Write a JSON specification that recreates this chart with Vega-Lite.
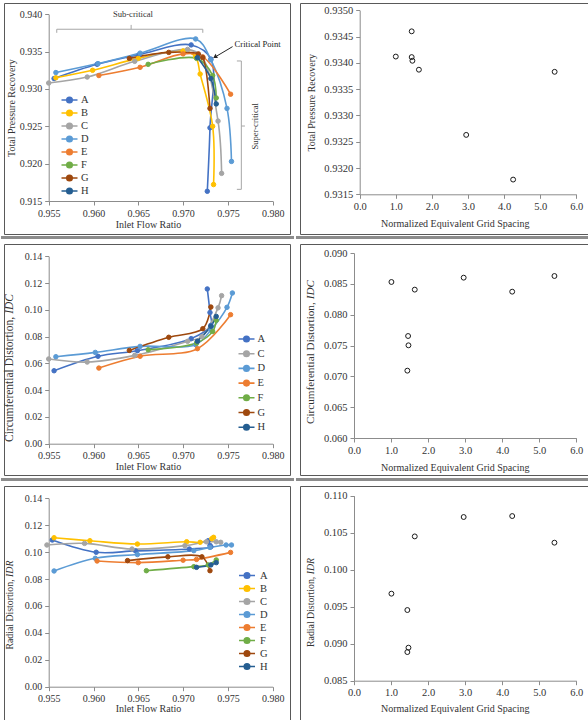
{
  "$schema": "https://vega.github.io/schema/vega-lite/v6.json",
  "padding": {"left": 0, "top": 2, "right": 0, "bottom": 0},
  "background": "white",
  "spacing": 3,
  "config": {
    "view": {"stroke": "#595959", "strokeWidth": 1},
    "font": "Liberation Serif",
    "axis": {
      "grid": false, "domainColor": "#8c8c8c", "tickColor": "#8c8c8c", "tickSize": 4,
      "labelFont": "Liberation Serif", "labelFontSize": 10, "labelColor": "#333333", "labelPadding": 3,
      "labelFlush": false, "labelOverlap": false,
      "titleFont": "Liberation Serif", "titleFontSize": 10, "titleColor": "#333333", "titleFontWeight": "normal"
    },
    "legend": {
      "symbolType": "M-1.6,0H1.6M0.55,0A0.55,0.55,0,1,1,-0.55,0A0.55,0.55,0,1,1,0.55,0Z",
      "symbolSize": 100, "symbolStrokeWidth": 1.6,
      "labelFont": "Liberation Serif", "labelFontSize": 10.5, "labelColor": "#333333"
    }
  },
  "resolve": {
    "scale": {"fill": "independent", "stroke": "independent"},
    "legend": {"fill": "independent", "stroke": "independent"}
  },
  "datasets": {
    "tpr": [
      {"case": "A", "i": 1, "x": 0.9556, "y": 0.9314}, {"case": "A", "i": 2, "x": 0.9604, "y": 0.9333}, {"case": "A", "i": 3, "x": 0.9651, "y": 0.9346}, {"case": "A", "i": 4, "x": 0.9709, "y": 0.9359}, {"case": "A", "i": 5, "x": 0.9731, "y": 0.9340}, {"case": "A", "i": 6, "x": 0.9730, "y": 0.9248}, {"case": "A", "i": 7, "x": 0.9727, "y": 0.9163},
      {"case": "B", "i": 1, "x": 0.9558, "y": 0.9315}, {"case": "B", "i": 2, "x": 0.9599, "y": 0.9325}, {"case": "B", "i": 3, "x": 0.9650, "y": 0.9341}, {"case": "B", "i": 4, "x": 0.9700, "y": 0.9351}, {"case": "B", "i": 5, "x": 0.9714, "y": 0.9343}, {"case": "B", "i": 6, "x": 0.9719, "y": 0.9320}, {"case": "B", "i": 7, "x": 0.9733, "y": 0.9250}, {"case": "B", "i": 8, "x": 0.9734, "y": 0.9172},
      {"case": "C", "i": 1, "x": 0.9550, "y": 0.9308}, {"case": "C", "i": 2, "x": 0.9593, "y": 0.9316}, {"case": "C", "i": 3, "x": 0.9646, "y": 0.9337}, {"case": "C", "i": 4, "x": 0.9705, "y": 0.9353}, {"case": "C", "i": 5, "x": 0.9721, "y": 0.9343}, {"case": "C", "i": 6, "x": 0.9739, "y": 0.9257}, {"case": "C", "i": 7, "x": 0.9743, "y": 0.9187},
      {"case": "D", "i": 1, "x": 0.9558, "y": 0.9322}, {"case": "D", "i": 2, "x": 0.9605, "y": 0.9334}, {"case": "D", "i": 3, "x": 0.9652, "y": 0.9348}, {"case": "D", "i": 4, "x": 0.9714, "y": 0.9367}, {"case": "D", "i": 5, "x": 0.9731, "y": 0.9339}, {"case": "D", "i": 6, "x": 0.9749, "y": 0.9274}, {"case": "D", "i": 7, "x": 0.9754, "y": 0.9203},
      {"case": "E", "i": 1, "x": 0.9606, "y": 0.9318}, {"case": "E", "i": 2, "x": 0.9652, "y": 0.9329}, {"case": "E", "i": 3, "x": 0.9700, "y": 0.9347}, {"case": "E", "i": 4, "x": 0.9722, "y": 0.9343}, {"case": "E", "i": 5, "x": 0.9753, "y": 0.9293},
      {"case": "F", "i": 1, "x": 0.9661, "y": 0.9333}, {"case": "F", "i": 2, "x": 0.9715, "y": 0.9341}, {"case": "F", "i": 3, "x": 0.9733, "y": 0.9318}, {"case": "F", "i": 4, "x": 0.9737, "y": 0.9288},
      {"case": "G", "i": 1, "x": 0.9640, "y": 0.9341}, {"case": "G", "i": 2, "x": 0.9684, "y": 0.9349}, {"case": "G", "i": 3, "x": 0.9717, "y": 0.9347}, {"case": "G", "i": 4, "x": 0.9722, "y": 0.9342}, {"case": "G", "i": 5, "x": 0.9730, "y": 0.9274},
      {"case": "H", "i": 1, "x": 0.9716, "y": 0.9342}, {"case": "H", "i": 2, "x": 0.9731, "y": 0.9314}, {"case": "H", "i": 3, "x": 0.9737, "y": 0.9280}
    ],
    "idc": [
      {"case": "A", "i": 1, "x": 0.9556, "y": 0.0545}, {"case": "A", "i": 2, "x": 0.9605, "y": 0.0653}, {"case": "A", "i": 3, "x": 0.9649, "y": 0.0695}, {"case": "A", "i": 4, "x": 0.9709, "y": 0.0785}, {"case": "A", "i": 5, "x": 0.9731, "y": 0.0884}, {"case": "A", "i": 6, "x": 0.9730, "y": 0.0980}, {"case": "A", "i": 7, "x": 0.9727, "y": 0.1156},
      {"case": "C", "i": 1, "x": 0.9550, "y": 0.0633}, {"case": "C", "i": 2, "x": 0.9593, "y": 0.0610}, {"case": "C", "i": 3, "x": 0.9646, "y": 0.0660}, {"case": "C", "i": 4, "x": 0.9705, "y": 0.0765}, {"case": "C", "i": 5, "x": 0.9721, "y": 0.0800}, {"case": "C", "i": 6, "x": 0.9739, "y": 0.1015}, {"case": "C", "i": 7, "x": 0.9743, "y": 0.1106},
      {"case": "D", "i": 1, "x": 0.9558, "y": 0.0650}, {"case": "D", "i": 2, "x": 0.9602, "y": 0.0682}, {"case": "D", "i": 3, "x": 0.9652, "y": 0.0727}, {"case": "D", "i": 4, "x": 0.9714, "y": 0.0740}, {"case": "D", "i": 5, "x": 0.9731, "y": 0.0850}, {"case": "D", "i": 6, "x": 0.9749, "y": 0.1019}, {"case": "D", "i": 7, "x": 0.9755, "y": 0.1126},
      {"case": "E", "i": 1, "x": 0.9606, "y": 0.0565}, {"case": "E", "i": 2, "x": 0.9652, "y": 0.0653}, {"case": "E", "i": 3, "x": 0.9716, "y": 0.0710}, {"case": "E", "i": 4, "x": 0.9753, "y": 0.0964},
      {"case": "F", "i": 1, "x": 0.9661, "y": 0.0702}, {"case": "F", "i": 2, "x": 0.9715, "y": 0.0752}, {"case": "F", "i": 3, "x": 0.9733, "y": 0.0839}, {"case": "F", "i": 4, "x": 0.9737, "y": 0.0922},
      {"case": "G", "i": 1, "x": 0.9640, "y": 0.0697}, {"case": "G", "i": 2, "x": 0.9684, "y": 0.0795}, {"case": "G", "i": 3, "x": 0.9722, "y": 0.0859}, {"case": "G", "i": 4, "x": 0.9731, "y": 0.1021},
      {"case": "H", "i": 1, "x": 0.9716, "y": 0.0765}, {"case": "H", "i": 2, "x": 0.9731, "y": 0.0877}, {"case": "H", "i": 3, "x": 0.9737, "y": 0.0951}
    ],
    "idr": [
      {"case": "A", "i": 1, "x": 0.9554, "y": 0.1090}, {"case": "A", "i": 2, "x": 0.9603, "y": 0.0999}, {"case": "A", "i": 3, "x": 0.9647, "y": 0.1009}, {"case": "A", "i": 4, "x": 0.9707, "y": 0.1023}, {"case": "A", "i": 5, "x": 0.9731, "y": 0.1040}, {"case": "A", "i": 6, "x": 0.9730, "y": 0.1050}, {"case": "A", "i": 7, "x": 0.9728, "y": 0.1085},
      {"case": "B", "i": 1, "x": 0.9556, "y": 0.1107}, {"case": "B", "i": 2, "x": 0.9596, "y": 0.1085}, {"case": "B", "i": 3, "x": 0.9649, "y": 0.1060}, {"case": "B", "i": 4, "x": 0.9704, "y": 0.1077}, {"case": "B", "i": 5, "x": 0.9719, "y": 0.1073}, {"case": "B", "i": 6, "x": 0.9732, "y": 0.1100}, {"case": "B", "i": 7, "x": 0.9734, "y": 0.1110},
      {"case": "C", "i": 1, "x": 0.9548, "y": 0.1053}, {"case": "C", "i": 2, "x": 0.9590, "y": 0.1065}, {"case": "C", "i": 3, "x": 0.9643, "y": 0.1023}, {"case": "C", "i": 4, "x": 0.9702, "y": 0.1048}, {"case": "C", "i": 5, "x": 0.9726, "y": 0.1077}, {"case": "C", "i": 6, "x": 0.9737, "y": 0.1077}, {"case": "C", "i": 7, "x": 0.9742, "y": 0.1073},
      {"case": "D", "i": 1, "x": 0.9556, "y": 0.0860}, {"case": "D", "i": 2, "x": 0.9602, "y": 0.0954}, {"case": "D", "i": 3, "x": 0.9649, "y": 0.0982}, {"case": "D", "i": 4, "x": 0.9712, "y": 0.1011}, {"case": "D", "i": 5, "x": 0.9730, "y": 0.1035}, {"case": "D", "i": 6, "x": 0.9748, "y": 0.1053}, {"case": "D", "i": 7, "x": 0.9754, "y": 0.1053},
      {"case": "E", "i": 1, "x": 0.9604, "y": 0.0934}, {"case": "E", "i": 2, "x": 0.9650, "y": 0.0922}, {"case": "E", "i": 3, "x": 0.9700, "y": 0.0940}, {"case": "E", "i": 4, "x": 0.9715, "y": 0.0946}, {"case": "E", "i": 5, "x": 0.9753, "y": 0.0998},
      {"case": "F", "i": 1, "x": 0.9659, "y": 0.0862}, {"case": "F", "i": 2, "x": 0.9712, "y": 0.0892}, {"case": "F", "i": 3, "x": 0.9728, "y": 0.0905}, {"case": "F", "i": 4, "x": 0.9737, "y": 0.0942},
      {"case": "G", "i": 1, "x": 0.9638, "y": 0.0937}, {"case": "G", "i": 2, "x": 0.9683, "y": 0.0965}, {"case": "G", "i": 3, "x": 0.9721, "y": 0.0965}, {"case": "G", "i": 4, "x": 0.9730, "y": 0.0862},
      {"case": "H", "i": 1, "x": 0.9715, "y": 0.0887}, {"case": "H", "i": 2, "x": 0.9731, "y": 0.0905}, {"case": "H", "i": 3, "x": 0.9737, "y": 0.0922}
    ],
    "tprGrid": [
      {"g": 1.00, "v": 0.93412}, {"g": 1.44, "v": 0.93460}, {"g": 1.44, "v": 0.93411}, {"g": 1.46, "v": 0.93404},
      {"g": 1.64, "v": 0.93387}, {"g": 2.95, "v": 0.93263}, {"g": 4.25, "v": 0.93178}, {"g": 5.40, "v": 0.93383}
    ],
    "idcGrid": [
      {"g": 1.01, "v": 0.08530}, {"g": 1.64, "v": 0.08406}, {"g": 1.46, "v": 0.07654}, {"g": 1.47, "v": 0.07503},
      {"g": 1.44, "v": 0.07092}, {"g": 2.96, "v": 0.08600}, {"g": 4.27, "v": 0.08373}, {"g": 5.41, "v": 0.08627}
    ],
    "idrGrid": [
      {"g": 1.01, "v": 0.09676}, {"g": 1.44, "v": 0.09455}, {"g": 1.64, "v": 0.10450}, {"g": 1.47, "v": 0.08946},
      {"g": 1.44, "v": 0.08887}, {"g": 2.96, "v": 0.10712}, {"g": 4.27, "v": 0.10725}, {"g": 5.41, "v": 0.10365}
    ]
  },
  "vconcat": [
    {
      "spacing": 0,
      "resolve": {"scale": {"fill": "independent", "stroke": "independent"}, "legend": {"fill": "independent", "stroke": "independent"}},
      "hconcat": [
        {
          "width": 286, "height": 231,
          "encoding": {
            "x": {"field": "x", "type": "quantitative",
              "scale": {"domain": [0.955, 0.98], "range": [44.7, 268.7], "nice": false, "zero": false},
              "axis": {"values": [0.955, 0.96, 0.965, 0.97, 0.975, 0.98], "format": ".3f", "offset": -33, "title": "Inlet Flow Ratio", "titleX": 144, "titleY": 18, "titleBaseline": "top", "titleAlign": "center"}},
            "y": {"field": "y", "type": "quantitative",
              "scale": {"domain": [0.915, 0.94], "range": [198, 11.3], "nice": false, "zero": false},
              "axis": {"values": [0.915, 0.92, 0.925, 0.93, 0.935, 0.94], "format": ".3f", "offset": -44.7, "title": "Total Pressure Recovery", "titleX": -37.7, "titleBaseline": "middle"}}
          },
          "layer": [
            {"data": {"values": [{"x": 0.9496763, "y": 0.9103133, "x2": 0.9823772, "y2": 0.9099116}]},
              "mark": {"type": "rect", "color": "#8c8c8c", "opacity": 1},
              "encoding": {"x2": {"field": "x2"}, "y2": {"field": "y2"}}},
            {"data": {"name": "tpr"}, "mark": {"type": "line", "interpolate": "catmull-rom", "strokeWidth": 1.6},
              "encoding": {
                "stroke": {"field": "case", "type": "nominal", "scale": {"domain": ["A", "B", "C", "D", "E", "F", "G", "H"], "range": ["#4472C4", "#FFC000", "#A5A5A5", "#5B9BD5", "#ED7D31", "#70AD47", "#9E480E", "#255E91"]},
                  "legend": {"title": null, "orient": "none", "padding": 0, "legendX": 59.5, "legendY": 91, "rowPadding": 1, "labelOffset": 5.5}},
                "order": {"field": "i", "type": "quantitative"}}},
            {"data": {"name": "tpr"}, "mark": {"type": "point", "filled": true, "opacity": 1, "size": 20, "strokeWidth": 1},
              "encoding": {
                "fill": {"field": "case", "type": "nominal", "scale": {"domain": ["A", "B", "C", "D", "E", "F", "G", "H"], "range": ["#4472C4", "#FFC000", "#A5A5A5", "#5B9BD5", "#ED7D31", "#70AD47", "#9E480E", "#255E91"]},
                  "legend": {"title": null, "orient": "none", "padding": 0, "legendX": 59.5, "legendY": 91, "rowPadding": 1, "labelOffset": 5.5}},
                "stroke": {"field": "case", "type": "nominal", "scale": {"domain": ["A", "B", "C", "D", "E", "F", "G", "H"], "range": ["#4472C4", "#FFC000", "#A5A5A5", "#5B9BD5", "#ED7D31", "#70AD47", "#9E480E", "#255E91"]},
                  "legend": {"title": null, "orient": "none", "padding": 0, "legendX": 59.5, "legendY": 91, "rowPadding": 1, "labelOffset": 5.5}}}},
            {"data": {"values": [
                {"x": 0.9559, "y": 0.9380, "x2": 0.9722, "y2": 0.9380},
                {"x": 0.9559, "y": 0.9380, "x2": 0.9559, "y2": 0.93752},
                {"x": 0.9722, "y": 0.9380, "x2": 0.9722, "y2": 0.93752},
                {"x": 0.9642, "y": 0.9380, "x2": 0.9642, "y2": 0.93858},
                {"x": 0.9765, "y": 0.93375, "x2": 0.9765, "y2": 0.91656},
                {"x": 0.9765, "y": 0.93375, "x2": 0.9760, "y2": 0.93375},
                {"x": 0.9765, "y": 0.91656, "x2": 0.9760, "y2": 0.91656},
                {"x": 0.9765, "y": 0.92504, "x2": 0.9769, "y2": 0.92504}
              ]},
              "mark": {"type": "rule", "color": "#a6a6a6", "strokeWidth": 1},
              "encoding": {"x2": {"field": "x2"}, "y2": {"field": "y2"}}},
            {"data": {"values": [{"x": 0.97552, "y": 0.93567, "x2": 0.97378, "y2": 0.93443}]},
              "mark": {"type": "rule", "color": "#262626", "strokeWidth": 1},
              "encoding": {"x2": {"field": "x2"}, "y2": {"field": "y2"}}},
            {"data": {"values": [{"x": 0.97356, "y": 0.93430}]},
              "mark": {"type": "point", "shape": "triangle-up", "filled": true, "color": "#262626", "size": 22, "angle": 240, "opacity": 1},
              "encoding": {}},
            {"data": {"values": [{"x": 0.9644, "y": 0.9401, "label": "Sub-critical"}]},
              "mark": {"type": "text", "font": "Liberation Serif", "fontSize": 8.6, "color": "#333333", "baseline": "middle"},
              "encoding": {"text": {"field": "label"}}},
            {"data": {"values": [{"x": 0.97575, "y": 0.93607, "label": "Critical Point"}]},
              "mark": {"type": "text", "font": "Liberation Serif", "fontSize": 8.6, "color": "#1a1a1a", "align": "left", "baseline": "middle"},
              "encoding": {"text": {"field": "label"}}},
            {"data": {"values": [{"x": 0.9780, "y": 0.9250, "label": "Super-critical"}]},
              "mark": {"type": "text", "font": "Liberation Serif", "fontSize": 8.6, "color": "#333333", "angle": 270, "baseline": "middle"},
              "encoding": {"text": {"field": "label"}}}
          ]
        },
        {
          "width": 289, "height": 231,
          "encoding": {
            "x": {"field": "g", "type": "quantitative",
              "scale": {"domain": [0, 6], "range": [59.7, 276.3], "nice": false, "zero": false},
              "axis": {"values": [0, 1, 2, 3, 4, 5, 6], "format": ".1f", "offset": -39.7, "labelFontSize": 10.5, "title": "Normalized Equivalent Grid Spacing", "titleX": 154.7, "titleY": 24, "titleBaseline": "top", "titleAlign": "center"}},
            "y": {"field": "v", "type": "quantitative",
              "scale": {"domain": [0.9315, 0.935], "range": [191.3, 7.3], "nice": false, "zero": false},
              "axis": {"values": [0.9315, 0.932, 0.9325, 0.933, 0.9335, 0.934, 0.9345, 0.935], "format": ".4f", "offset": -59.7, "labelFontSize": 10.5, "title": "Total Pressure Recovery", "titleX": -48.7, "titleBaseline": "middle"}}
          },
          "layer": [
            {"data": {"values": [{"g": -1.76454, "v": 0.93070678, "g2": 6.4072, "v2": 0.93064972}]},
              "mark": {"type": "rect", "color": "#8c8c8c", "opacity": 1},
              "encoding": {"x2": {"field": "g2"}, "y2": {"field": "v2"}}},
            {"data": {"name": "tprGrid"},
              "mark": {"type": "point", "shape": "circle", "filled": false, "color": "#1a1a1a", "strokeWidth": 1, "size": 24, "opacity": 1}}
          ]
        }
      ]
    },
    {
      "spacing": 0,
      "resolve": {"scale": {"fill": "independent", "stroke": "independent"}, "legend": {"fill": "independent", "stroke": "independent"}},
      "hconcat": [
        {
          "width": 286, "height": 231,
          "encoding": {
            "x": {"field": "x", "type": "quantitative",
              "scale": {"domain": [0.955, 0.98], "range": [44.7, 268.7], "nice": false, "zero": false},
              "axis": {"values": [0.955, 0.96, 0.965, 0.97, 0.975, 0.98], "format": ".3f", "offset": -31.3, "title": "Inlet Flow Ratio", "titleX": 144, "titleY": 18, "titleBaseline": "top", "titleAlign": "center"}},
            "y": {"field": "y", "type": "quantitative",
              "scale": {"domain": [0, 0.14], "range": [199.7, 12.3], "nice": false, "zero": false},
              "axis": {"values": [0, 0.02, 0.04, 0.06, 0.08, 0.1, 0.12, 0.14], "format": ".2f", "offset": -44.7, "title": null}}
          },
          "layer": [
            {"data": {"values": [{"x": 0.9496763, "y": -0.025624, "x2": 0.9823772, "y2": -0.027866}]},
              "mark": {"type": "rect", "color": "#8c8c8c", "opacity": 1},
              "encoding": {"x2": {"field": "x2"}, "y2": {"field": "y2"}}},
            {"data": {"name": "idc"}, "mark": {"type": "line", "interpolate": "catmull-rom", "strokeWidth": 1.6},
              "encoding": {
                "stroke": {"field": "case", "type": "nominal", "scale": {"domain": ["A", "C", "D", "E", "F", "G", "H"], "range": ["#4472C4", "#A5A5A5", "#5B9BD5", "#ED7D31", "#70AD47", "#9E480E", "#255E91"]},
                  "legend": {"title": null, "orient": "none", "padding": 0, "legendX": 236.5, "legendY": 89, "rowPadding": 2.7, "labelOffset": 5}},
                "order": {"field": "i", "type": "quantitative"}}},
            {"data": {"name": "idc"}, "mark": {"type": "point", "filled": true, "opacity": 1, "size": 20, "strokeWidth": 1},
              "encoding": {
                "fill": {"field": "case", "type": "nominal", "scale": {"domain": ["A", "C", "D", "E", "F", "G", "H"], "range": ["#4472C4", "#A5A5A5", "#5B9BD5", "#ED7D31", "#70AD47", "#9E480E", "#255E91"]},
                  "legend": {"title": null, "orient": "none", "padding": 0, "legendX": 236.5, "legendY": 89, "rowPadding": 2.7, "labelOffset": 5}},
                "stroke": {"field": "case", "type": "nominal", "scale": {"domain": ["A", "C", "D", "E", "F", "G", "H"], "range": ["#4472C4", "#A5A5A5", "#5B9BD5", "#ED7D31", "#70AD47", "#9E480E", "#255E91"]},
                  "legend": {"title": null, "orient": "none", "padding": 0, "legendX": 236.5, "legendY": 89, "rowPadding": 2.7, "labelOffset": 5}}}},
            {"data": {"values": [{"x": 0.95071, "y": 0.0948, "label": "Circumferential Distortion,"}]},
              "mark": {"type": "text", "font": "Liberation Serif", "fontSize": 11.5, "color": "#333333", "angle": 270, "align": "right", "baseline": "middle"},
              "encoding": {"text": {"field": "label"}}},
            {"data": {"values": [{"x": 0.95071, "y": 0.0948, "label": "IDC"}]},
              "mark": {"type": "text", "font": "Liberation Serif", "fontSize": 11.5, "fontStyle": "italic", "color": "#333333", "angle": 270, "align": "left", "baseline": "middle", "dx": 3},
              "encoding": {"text": {"field": "label"}}}
          ]
        },
        {
          "width": 289, "height": 231,
          "encoding": {
            "x": {"field": "g", "type": "quantitative",
              "scale": {"domain": [0, 6], "range": [54, 276.3], "nice": false, "zero": false},
              "axis": {"values": [0, 1, 2, 3, 4, 5, 6], "format": ".1f", "offset": -37, "labelFontSize": 10.5, "title": "Normalized Equivalent Grid Spacing", "titleX": 154.7, "titleY": 24, "titleBaseline": "top", "titleAlign": "center"}},
            "y": {"field": "v", "type": "quantitative",
              "scale": {"domain": [0.06, 0.09], "range": [194, 9], "nice": false, "zero": false},
              "axis": {"values": [0.06, 0.065, 0.07, 0.075, 0.08, 0.085, 0.09], "format": ".3f", "offset": -54, "labelFontSize": 10.5, "title": null}}
          },
          "layer": [
            {"data": {"values": [{"g": -1.56545, "v": 0.0535135, "g2": 6.39676, "v2": 0.053027}]},
              "mark": {"type": "rect", "color": "#8c8c8c", "opacity": 1},
              "encoding": {"x2": {"field": "g2"}, "y2": {"field": "v2"}}},
            {"data": {"name": "idcGrid"},
              "mark": {"type": "point", "shape": "circle", "filled": false, "color": "#1a1a1a", "strokeWidth": 1, "size": 24, "opacity": 1}},
            {"data": {"values": [{"g": -1.16, "v": 0.08201, "label": "Circumferential Distortion,"}]},
              "mark": {"type": "text", "font": "Liberation Serif", "fontSize": 11.2, "color": "#333333", "angle": 270, "align": "right", "baseline": "middle"},
              "encoding": {"text": {"field": "label"}}},
            {"data": {"values": [{"g": -1.16, "v": 0.08201, "label": "IDC"}]},
              "mark": {"type": "text", "font": "Liberation Serif", "fontSize": 11.2, "fontStyle": "italic", "color": "#333333", "angle": 270, "align": "left", "baseline": "middle", "dx": 3},
              "encoding": {"text": {"field": "label"}}}
          ]
        }
      ]
    },
    {
      "spacing": 8,
      "resolve": {"scale": {"fill": "independent", "stroke": "independent"}, "legend": {"fill": "independent", "stroke": "independent"}},
      "hconcat": [
        {
          "width": 286, "height": 236,
          "encoding": {
            "x": {"field": "x", "type": "quantitative",
              "scale": {"domain": [0.955, 0.98], "range": [44.7, 268.7], "nice": false, "zero": false},
              "axis": {"values": [0.955, 0.96, 0.965, 0.97, 0.975, 0.98], "format": ".3f", "offset": -35.3, "title": "Inlet Flow Ratio", "titleX": 144, "titleY": 17, "titleBaseline": "top", "titleAlign": "center"}},
            "y": {"field": "y", "type": "quantitative",
              "scale": {"domain": [0, 0.14], "range": [200.7, 12.3], "nice": false, "zero": false},
              "axis": {"values": [0, 0.02, 0.04, 0.06, 0.08, 0.1, 0.12, 0.14], "format": ".2f", "offset": -44.7, "title": null}}
          },
          "layer": [
            {"data": {"name": "idr"}, "mark": {"type": "line", "interpolate": "catmull-rom", "strokeWidth": 1.6},
              "encoding": {
                "stroke": {"field": "case", "type": "nominal", "scale": {"domain": ["A", "B", "C", "D", "E", "F", "G", "H"], "range": ["#4472C4", "#FFC000", "#A5A5A5", "#5B9BD5", "#ED7D31", "#70AD47", "#9E480E", "#255E91"]},
                  "legend": {"title": null, "orient": "none", "padding": 0, "legendX": 237, "legendY": 83.5, "rowPadding": 1, "labelOffset": 7}},
                "order": {"field": "i", "type": "quantitative"}}},
            {"data": {"name": "idr"}, "mark": {"type": "point", "filled": true, "opacity": 1, "size": 20, "strokeWidth": 1},
              "encoding": {
                "fill": {"field": "case", "type": "nominal", "scale": {"domain": ["A", "B", "C", "D", "E", "F", "G", "H"], "range": ["#4472C4", "#FFC000", "#A5A5A5", "#5B9BD5", "#ED7D31", "#70AD47", "#9E480E", "#255E91"]},
                  "legend": {"title": null, "orient": "none", "padding": 0, "legendX": 237, "legendY": 83.5, "rowPadding": 1, "labelOffset": 7}},
                "stroke": {"field": "case", "type": "nominal", "scale": {"domain": ["A", "B", "C", "D", "E", "F", "G", "H"], "range": ["#4472C4", "#FFC000", "#A5A5A5", "#5B9BD5", "#ED7D31", "#70AD47", "#9E480E", "#255E91"]},
                  "legend": {"title": null, "orient": "none", "padding": 0, "legendX": 237, "legendY": 83.5, "rowPadding": 1, "labelOffset": 7}}}},
            {"data": {"values": [{"x": 0.95071, "y": 0.07973, "label": "Radial Distortion,"}]},
              "mark": {"type": "text", "font": "Liberation Serif", "fontSize": 9.8, "color": "#333333", "angle": 270, "align": "right", "baseline": "middle"},
              "encoding": {"text": {"field": "label"}}},
            {"data": {"values": [{"x": 0.95071, "y": 0.07973, "label": "IDR"}]},
              "mark": {"type": "text", "font": "Liberation Serif", "fontSize": 9.8, "fontStyle": "italic", "color": "#333333", "angle": 270, "align": "left", "baseline": "middle", "dx": 2.5},
              "encoding": {"text": {"field": "label"}}}
          ]
        },
        {
          "width": 289, "height": 236,
          "encoding": {
            "x": {"field": "g", "type": "quantitative",
              "scale": {"domain": [0, 6], "range": [54, 276.3], "nice": false, "zero": false},
              "axis": {"values": [0, 1, 2, 3, 4, 5, 6], "format": ".1f", "offset": -41.3, "labelFontSize": 10.5, "title": "Normalized Equivalent Grid Spacing", "titleX": 154.7, "titleY": 23, "titleBaseline": "top", "titleAlign": "center"}},
            "y": {"field": "v", "type": "quantitative",
              "scale": {"domain": [0.085, 0.11], "range": [194.7, 9.7], "nice": false, "zero": false},
              "axis": {"values": [0.085, 0.09, 0.095, 0.1, 0.105, 0.11], "format": ".3f", "offset": -54, "labelFontSize": 10.5, "title": null}}
          },
          "layer": [
            {"data": {"name": "idrGrid"},
              "mark": {"type": "point", "shape": "circle", "filled": false, "color": "#1a1a1a", "strokeWidth": 1, "size": 24, "opacity": 1}},
            {"data": {"values": [{"g": -1.16, "v": 0.09905, "label": "Radial Distortion,"}]},
              "mark": {"type": "text", "font": "Liberation Serif", "fontSize": 9.8, "color": "#333333", "angle": 270, "align": "right", "baseline": "middle"},
              "encoding": {"text": {"field": "label"}}},
            {"data": {"values": [{"g": -1.16, "v": 0.09905, "label": "IDR"}]},
              "mark": {"type": "text", "font": "Liberation Serif", "fontSize": 9.8, "fontStyle": "italic", "color": "#333333", "angle": 270, "align": "left", "baseline": "middle", "dx": 2.5},
              "encoding": {"text": {"field": "label"}}}
          ]
        }
      ]
    }
  ]
}
